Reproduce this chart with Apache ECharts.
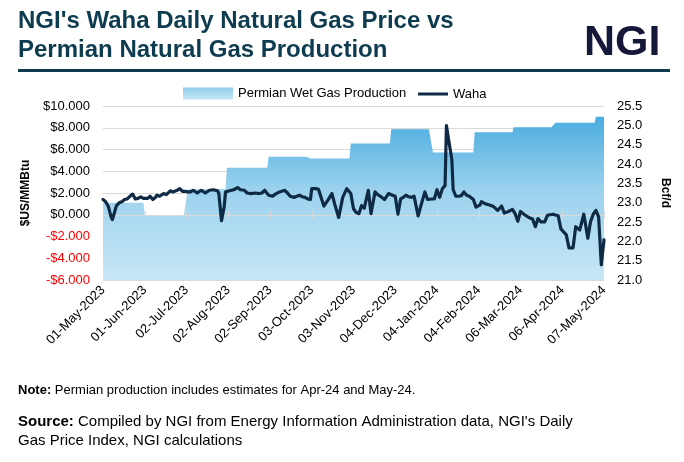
<!DOCTYPE html>
<html>
<head>
<meta charset="utf-8">
<script src="https://cdn.jsdelivr.net/npm/echarts@6/dist/echarts.min.js"></script>
<style>html,body{margin:0;padding:0;background:#fff}#c{width:684px;height:462px}</style>
</head>
<body>
<div id="c"></div>
<script>
// X tick labels (every 31 days from 01-May-2023)
const tickLabels = ['01-May-2023','01-Jun-2023','02-Jul-2023','02-Aug-2023','02-Sep-2023','03-Oct-2023','03-Nov-2023','04-Dec-2023','04-Jan-2024','04-Feb-2024','06-Mar-2024','06-Apr-2024','07-May-2024'];
// Permian wet gas production, Bcf/d, monthly
const prodMonths = ['2023-05','2023-06','2023-07','2023-08','2023-09','2023-10','2023-11','2023-12','2024-01','2024-02','2024-03','2024-04','2024-05'];
const prodValues = [23.0, 22.68, 23.35, 23.9, 24.19, 24.14, 24.53, 24.9, 24.3, 24.82, 24.95, 25.07, 25.22];
// Waha daily price, $/MMBtu; day = days since 01-May-2023
const wahaDays = [0,2,4,6,7,8,10,12,14,16,18,20,22,24,26,28,30,31,33,35,37,39,40,42,45,47,50,52,55,57,59,61,63,65,67,70,73,76,79,82,85,86,88,90,91,94,97,100,102,105,107,110,113,116,118,120,123,126,128,131,135,137,139,142,144,146,148,150,152,154,155,158,160,161,164,167,170,172,175,178,181,182,184,186,188,190,192,194,195,197,199,202,204,206,209,212,215,217,219,221,223,225,227,229,231,234,237,239,241,244,246,248,250,252,254,255,257,259,260,262,264,266,268,270,272,275,277,280,281,284,287,290,293,296,298,301,304,306,308,310,313,317,319,321,323,325,328,330,334,338,340,344,346,349,351,354,357,360,362,364,366,368,370,372];
const wahaPrices = [1.40,1.2,0.75,-0.2,-0.45,-0.4,0.85,1.1,1.2,1.4,1.45,1.7,1.9,1.45,1.5,1.65,1.5,1.35,1.5,1.7,1.4,1.6,1.8,1.7,1.95,1.85,2.2,2.1,2.25,2.4,2.15,2.15,2.1,2.1,2.25,2.0,2.25,2.0,2.25,2.3,2.2,1.95,-0.55,0.75,2.1,2.2,2.3,2.5,2.3,2.25,2.0,1.95,2.0,1.95,2.0,2.25,1.8,1.7,1.9,2.1,2.25,2.0,1.7,1.6,1.7,1.8,1.65,1.6,1.45,1.4,2.4,2.4,2.35,2.2,0.8,1.35,1.95,1.0,-0.25,1.6,2.4,2.5,1.95,0.55,0.2,0.1,0.85,0.6,0.7,2.25,0.1,2.1,1.85,1.7,1.4,1.95,1.8,1.7,0.05,1.45,1.6,1.8,1.65,1.6,1.7,-0.1,1.25,2.1,1.4,1.45,1.45,2.3,1.6,2.4,2.7,8.2,6.6,5.1,2.3,1.7,1.7,1.75,2.1,1.8,1.7,1.4,0.7,0.9,1.2,1.0,0.9,0.75,0.4,0.8,0.15,0.3,0.5,0.1,-0.6,0.3,0.0,-0.3,-0.4,-1.1,-0.35,-0.65,-0.65,-0.05,0.05,-0.1,-1.3,-1.85,-3.05,-3.05,-1.1,-1.4,0.05,-2.15,-0.65,0.05,0.4,-0.2,-4.6,-2.3];

const FONT = '"Liberation Sans", Arial, sans-serif';
const START = Date.UTC(2023, 4, 1);
const LAST_DAY = 372;
const dayOf = t => Math.round((t - START) / 86400000);
function isWeekday(t) { const w = new Date(t).getUTCDay(); return w !== 0 && w !== 6; }

// production: one point at first and last trading day of each month
const prodData = [];
prodMonths.forEach((m, i) => {
  const [y, mo] = m.split('-').map(Number);
  let a = Date.UTC(y, mo - 1, 1);
  while (!isWeekday(a)) a += 86400000;
  let b = Date.UTC(y, mo, 0);
  while (!isWeekday(b)) b -= 86400000;
  let da = dayOf(a), db = Math.min(dayOf(b), LAST_DAY);
  prodData.push([da, prodValues[i]]);
  prodData.push([db, prodValues[i]]);
});
const wahaData = wahaDays.map((d, i) => [d, wahaPrices[i]]);

const chart = echarts.init(document.getElementById('c'), null, {renderer: 'canvas'});
const areaGrad = new echarts.graphic.LinearGradient(0, 0, 0, 1, [
  {offset: 0, color: '#4AACE0'}, {offset: 0.45, color: '#9CD2EE'}, {offset: 1, color: '#C8E7F6'}]);
const legGrad = new echarts.graphic.LinearGradient(0, 0, 0, 1, [
  {offset: 0, color: '#8ECBEB'}, {offset: 1, color: '#C8E7F6'}]);
const xBase = {type: 'value', min: 0, max: LAST_DAY, interval: 31, splitLine: {show: false}};
chart.setOption({
  animation: false,
  textStyle: {fontFamily: FONT},
  grid: {left: 103, top: 106, width: 501, height: 174, containLabel: false},
  legend: [
    {data: ['Permian Wet Gas Production'], left: 178, top: 82, icon: 'rect', itemWidth: 50, itemHeight: 12,
     textStyle: {fontSize: 13, color: '#000', fontFamily: FONT}},
    {data: ['Waha'], left: 413, top: 82, icon: 'rect', itemWidth: 30, itemHeight: 3,
     textStyle: {fontSize: 13, color: '#000', fontFamily: FONT, lineHeight: 14, height: 14}}
  ],
  xAxis: [
    Object.assign({}, xBase, {
      position: 'bottom', axisLine: {show: false, onZero: false}, axisTick: {show: false},
      axisLabel: {rotate: 45, fontSize: 13, color: '#000', margin: 8, fontFamily: FONT,
        formatter: v => tickLabels[Math.round(v / 31)] || ''}
    }),
    Object.assign({}, xBase, {
      position: 'bottom', z: 5,
      axisLine: {show: true, onZero: true, onZeroAxisIndex: 0, lineStyle: {color: '#D9D9D9', width: 1}},
      axisTick: {show: true, inside: true, length: 4, lineStyle: {color: '#D9D9D9'}},
      axisLabel: {show: false}
    }),
    Object.assign({}, xBase, {
      position: 'bottom', z: 5,
      axisLine: {show: false, onZero: true, onZeroAxisIndex: 0},
      axisTick: {show: true, inside: false, length: 4, lineStyle: {color: '#D9D9D9'}},
      axisLabel: {show: false}
    })
  ],
  yAxis: [
    {type: 'value', min: -6, max: 10, interval: 2, position: 'left',
     axisLine: {show: false}, axisTick: {show: false},
     splitLine: {show: true, lineStyle: {color: '#D9D9D9', width: 1}},
     axisLabel: {fontSize: 13, color: '#000', margin: 13, fontFamily: FONT,
       formatter: v => v < 0 ? '{n|-$' + Math.abs(v).toFixed(3) + '}' : '$' + v.toFixed(3),
       rich: {n: {color: '#FF0000', fontSize: 13, fontFamily: FONT}}},
     name: '$US/MMBtu', nameLocation: 'middle', nameRotate: 90, nameGap: 70,
     nameTextStyle: {fontSize: 12, fontWeight: 'bold', color: '#000', fontFamily: FONT}},
    {type: 'value', min: 21, max: 25.5, interval: 0.5, position: 'right',
     axisLine: {show: false}, axisTick: {show: false}, splitLine: {show: false},
     axisLabel: {fontSize: 13, color: '#000', margin: 13, fontFamily: FONT, formatter: v => v.toFixed(1)},
     name: 'Bcf/d', nameLocation: 'middle', nameRotate: -90, nameGap: 55,
     nameTextStyle: {fontSize: 12, fontWeight: 'bold', color: '#000', fontFamily: FONT}}
  ],
  series: [
    {name: 'Permian Wet Gas Production', type: 'line', xAxisIndex: 0, yAxisIndex: 1, data: prodData,
     symbol: 'none', z: 1, itemStyle: {color: legGrad},
     lineStyle: {width: 0}, areaStyle: {color: areaGrad, origin: 'start', opacity: 1}},
    {name: 'Waha', type: 'line', xAxisIndex: 0, yAxisIndex: 0, data: wahaData,
     symbol: 'none', z: 10, itemStyle: {color: '#0F2A44'},
     lineStyle: {color: '#0F2A44', width: 3.2, join: 'round', cap: 'round'}}
  ],
  graphic: [
    {type: 'text', left: 18, top: 7, style: {text: "NGI's Waha Daily Natural Gas Price vs\nPermian Natural Gas Production",
      fontSize: 24, fontWeight: 'bold', fontFamily: FONT, fill: '#0D3B4F', lineHeight: 29}},
    {type: 'text', left: 584, top: 22, style: {text: 'NGI', fontSize: 43, fontWeight: 'bold', fontFamily: FONT, fill: '#16183A'}},
    {type: 'rect', left: 18, top: 69, shape: {width: 652, height: 3}, style: {fill: '#0E3B4E'}},
    {type: 'text', left: 18, top: 384, style: {text: '{b|Note:} Permian production includes estimates for Apr-24 and May-24.',
      fontSize: 13, fontFamily: FONT, fill: '#000', rich: {b: {fontWeight: 'bold', fontSize: 13, fontFamily: FONT, fill: '#000'}}}},
    {type: 'text', left: 18, top: 412, style: {text: '{b|Source:} Compiled by NGI from Energy Information Administration data, NGI\'s Daily\nGas Price Index, NGI calculations',
      fontSize: 15, fontFamily: FONT, fill: '#000', lineHeight: 19, rich: {b: {fontWeight: 'bold', fontSize: 15, fontFamily: FONT, fill: '#000', lineHeight: 19}}}}
  ]
});
</script>
</body>
</html>
